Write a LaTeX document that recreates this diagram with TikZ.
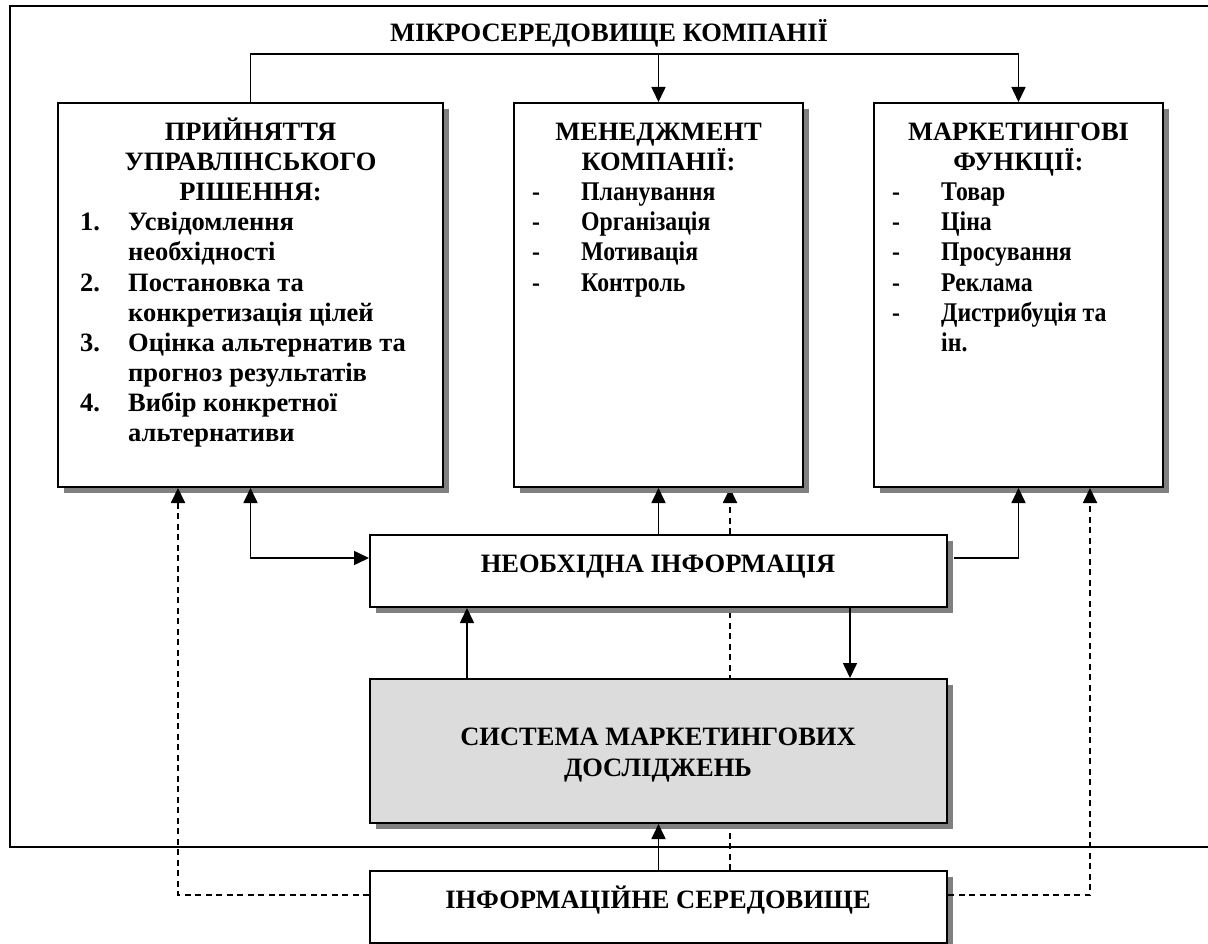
\documentclass[tikz,border=0pt]{standalone}
\usepackage{fontspec}
\setmainfont{Liberation Serif}
\newfontfamily\condfont{Liberation Serif}[FakeStretch=0.88]
\usetikzlibrary{arrows.meta,calc,shadows}
\pgfdeclarelayer{bg}
\pgfsetlayers{bg,main}
\definecolor{shadowgray}{HTML}{808080}
\definecolor{sysfill}{HTML}{DCDCDC}
\tikzset{
  box/.style={draw=black,line width=2pt,fill=white,inner sep=0pt,
    drop shadow={shadow xshift=6pt,shadow yshift=-6pt,fill=shadowgray,opacity=1}},
  txt/.style={font=\bfseries\fontsize{26.5}{30}\selectfont,inner sep=0pt,anchor=base},
  txtl/.style={txt,anchor=base west},
  ctxt/.style={font=\bfseries\condfont\fontsize{27}{30}\selectfont,inner sep=0pt,anchor=base west},
  conn/.style={line width=1.6pt},
  tip/.style={-{Triangle[length=15pt,width=14pt]}},
  dconn/.style={conn,line width=1.8pt,dash pattern=on 6pt off 4.5pt},
}
\begin{document}
\begin{tikzpicture}[x=1pt,y=-1pt]
\useasboundingbox (0,0) rectangle (1208,944);
% outer frame
\draw[line width=2pt] (1216,6) -- (10,6) -- (10,847) -- (1216,847);
\node[txt] (title) at (609,42) {МІКРОСЕРЕДОВИЩЕ КОМПАНІЇ};

% boxes
\node[box,minimum width=385pt,minimum height=384pt] (L) at (250.5,295) {};
\node[box,minimum width=289pt,minimum height=384pt] (M) at (658.5,295) {};
\node[box,minimum width=289pt,minimum height=384pt] (R) at (1018.5,295) {};
\node[box,minimum width=577pt,minimum height=72pt] (N) at (658.5,571) {};
\node[box,fill=sysfill,minimum width=577pt,minimum height=144pt] (S) at (658.5,751) {};
\node[box,minimum width=577pt,minimum height=72pt] (I) at (658.5,907) {};

% left box text
\node[txt] (l1) at (250.5,141) {ПРИЙНЯТТЯ};
\node[txt] (l2) at (250.5,171) {УПРАВЛІНСЬКОГО};
\node[txt] (l3) at (250.5,201) {РІШЕННЯ:};
\node[txtl] (n1) at (80,231) {1.};
\node[txtl] (i1) at (128,231) {Усвідомлення};
\node[txtl] (i1b) at (128,261) {необхідності};
\node[txtl] (n2) at (80,291) {2.};
\node[txtl] (i2) at (128,291) {Постановка та};
\node[txtl] (i2b) at (128,321) {конкретизація цілей};
\node[txtl] (n3) at (80,351) {3.};
\node[txtl] (i3) at (128,351) {Оцінка альтернатив та};
\node[txtl] (i3b) at (128,381) {прогноз результатів};
\node[txtl] (n4) at (80,411) {4.};
\node[txtl] (i4) at (128,411) {Вибір конкретної};
\node[txtl] (i4b) at (128,441) {альтернативи};

% middle box text
\node[txt] (m1) at (658.5,141) {МЕНЕДЖМЕНТ};
\node[txt] (m2) at (658.5,171) {КОМПАНІЇ:};
\foreach \t [count=\k] in {Планування,Організація,Мотивація,Контроль}{
  \node[ctxt] (md\k) at (532,171+30*\k) {-};
  \node[ctxt] (mi\k) at (581,171+30*\k) {\t};
}

% right box text
\node[txt] (r1) at (1018.5,141) {МАРКЕТИНГОВІ};
\node[txt] (r2) at (1018.5,171) {ФУНКЦІЇ:};
\foreach \t [count=\k] in {Товар,Ціна,Просування,Реклама,Дистрибуція та}{
  \node[ctxt] (rd\k) at (892,171+30*\k) {-};
  \node[ctxt] (ri\k) at (941,171+30*\k) {\t};
}
\node[ctxt] (ri6) at (941,351) {ін.};

% other texts
\node[txt] (nt) at (658,572) {НЕОБХІДНА ІНФОРМАЦІЯ};
\node[txt] (st1) at (658,745) {СИСТЕМА МАРКЕТИНГОВИХ};
\node[txt] (st2) at (658,776) {ДОСЛІДЖЕНЬ};
\node[txt] (it) at (658,908) {ІНФОРМАЦІЙНЕ СЕРЕДОВИЩЕ};

% coordinates for connector x positions
\coordinate (top) at (658.5,54);
\coordinate (xa) at (730,0);
\coordinate (xb) at (467,0);
\coordinate (xc) at (850,0);
\coordinate (xl) at (178,0);
\coordinate (xr) at (1090,0);

% dashed line hidden behind boxes
\begin{pgfonlayer}{bg}
\draw[dconn,tip] (I.north -| xa) -- (M.south -| xa);
\end{pgfonlayer}

% connectors
\draw[conn,tip] (L.north) |- (top) -| (R.north);
\draw[conn,tip] (top) -- (M.north);
\draw[conn,{Triangle[length=15pt,width=14pt]}-{Triangle[length=15pt,width=14pt]}]
  (L.south) |- ($(N.west)+(0,-13)$);
\draw[conn,tip] ($(N.east)+(6,-13)$) -| (R.south);
\draw[conn,tip] (N.north) -- (M.south);
\draw[conn,tip] (S.north -| xb) -- (N.south -| xb);
\draw[conn,tip] (N.south -| xc) -- (S.north -| xc);
\draw[conn,tip] (I.north) -- (S.south);
\draw[dconn,tip] ($(I.west)+(0,-12)$) -| (L.south -| xl);
\draw[dconn,tip] ($(I.east)+(0,-12)$) -| (R.south -| xr);
\end{tikzpicture}
\end{document}
